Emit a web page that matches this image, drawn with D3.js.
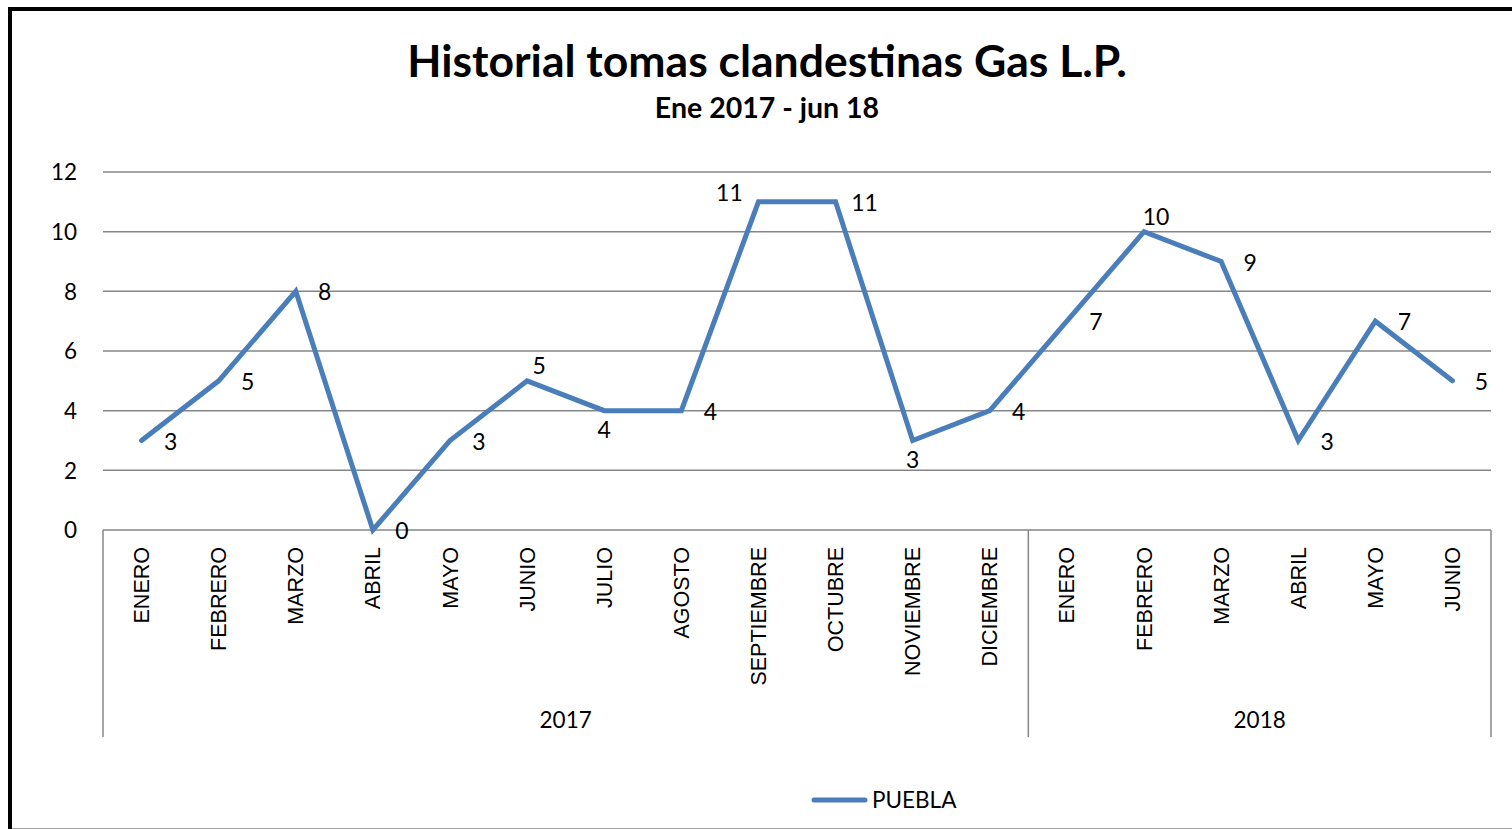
<!DOCTYPE html>
<html>
<head>
<meta charset="utf-8">
<script src="https://cdn.jsdelivr.net/npm/d3@7"></script>
<style>
  html, body { margin: 0; padding: 0; background: #fff; }
  svg { display: block; }
</style>
</head>
<body>
<svg id="chart" width="1512" height="829"></svg>
<script>
// ---- data ----
const months = ["ENERO","FEBRERO","MARZO","ABRIL","MAYO","JUNIO","JULIO","AGOSTO","SEPTIEMBRE","OCTUBRE","NOVIEMBRE","DICIEMBRE",
                "ENERO","FEBRERO","MARZO","ABRIL","MAYO","JUNIO"];
const years = ["2017","2018"];
const yearOf = [0,0,0,0,0,0,0,0,0,0,0,0,1,1,1,1,1,1];
const puebla = [3,5,8,0,3,5,4,4,11,11,3,4,7,10,9,3,7,5];
const labelPlacement = ["right","right","right","right","right","above","below","right","left","right","below","right",
                        "right","above","right","right","right","right"];
const yTicks = [0,2,4,6,8,10,12];
const seriesName = "PUEBLA";
const title = "Historial tomas clandestinas Gas L.P.";
const subtitle = "Ene 2017 - jun 18";

// ---- layout ----
const svg = d3.select("#chart");
const W = 1512, H = 829;
const plot = {left: 103, right: 1491, top: 172, bottom: 530};
const catFont = "'Liberation Sans', Arial, sans-serif";
const numFont = "Lato, 'Open Sans', sans-serif";
const blue = "#4A7EBB";
const grid = "#868686";

const keys = months.map((m, i) => i);
const x = d3.scaleBand().domain(keys).range([plot.left, plot.right]).padding(0);
const y = d3.scaleLinear().domain([0, 12]).range([plot.bottom, plot.top]);
const cx = i => x(i) + x.bandwidth() / 2;

// frame
svg.append("rect").attr("x", 0).attr("y", 0).attr("width", W).attr("height", H).attr("fill", "#fff");
svg.append("line").attr("x1", 12).attr("x2", W).attr("y1", 828.5).attr("y2", 828.5)
   .attr("stroke", "#a0a0a0").attr("stroke-width", 1);
svg.append("path").attr("d", `M10,${H} L10,9 L${W},9`).attr("fill", "none")
   .attr("stroke", "#000").attr("stroke-width", 4);

// title
svg.append("text").attr("x", 767).attr("y", 77).attr("text-anchor", "middle")
   .attr("font-family", numFont).attr("font-weight", "bold").attr("font-size", 44.5)
   .attr("fill", "#000").text(title);
svg.append("text").attr("x", 767).attr("y", 118).attr("text-anchor", "middle")
   .attr("font-family", numFont).attr("font-weight", "bold").attr("font-size", 28.5)
   .attr("fill", "#000").text(subtitle);

// gridlines + y labels
const yAxis = d3.axisLeft(y).tickValues(yTicks).tickSize(0).tickPadding(26);
const gy = svg.append("g").attr("transform", `translate(${plot.left},0)`).call(yAxis);
gy.select(".domain").remove();
gy.selectAll("text").attr("font-family", numFont).attr("font-size", 22.5).attr("fill", "#000")
  .attr("dy", "0.35em");
svg.append("g").selectAll("line").data(yTicks.filter(t => t > 0)).join("line")
   .attr("x1", plot.left).attr("x2", plot.right)
   .attr("y1", d => y(d)).attr("y2", d => y(d))
   .attr("stroke", grid).attr("stroke-width", 1.5);

// x axis
const xAxis = d3.axisBottom(x).tickSize(0).tickPadding(0).tickFormat(i => months[i]);
const gx = svg.append("g").attr("transform", `translate(0,${plot.bottom})`).call(xAxis);
gx.select(".domain").attr("stroke", grid).attr("stroke-width", 1.5)
  .attr("d", `M${plot.left},0H${plot.right}`);
gx.selectAll("text")
  .attr("font-family", catFont).attr("font-size", 21.5).attr("fill", "#000")
  .attr("transform", "rotate(-90)")
  .attr("text-anchor", "end")
  .attr("x", -17).attr("y", 0).attr("dy", "0.35em");

// group separators
const bounds = [plot.left];
years.forEach((yr, k) => {
  const idx = keys.filter(i => yearOf[i] === k);
  bounds.push(x(idx[idx.length - 1]) + x.bandwidth());
});
svg.append("g").selectAll("line").data(bounds).join("line")
   .attr("x1", d => d).attr("x2", d => d).attr("y1", plot.bottom).attr("y2", 737)
   .attr("stroke", grid).attr("stroke-width", 1.5);
svg.append("g").selectAll("text").data(years).join("text")
   .attr("x", (d, k) => (bounds[k] + bounds[k + 1]) / 2).attr("y", 728)
   .attr("text-anchor", "middle").attr("font-family", numFont).attr("font-size", 22.5)
   .attr("fill", "#000").text(d => d);

// line
const line = d3.line().x((d, i) => cx(i)).y(d => y(d));
svg.append("path").datum(puebla).attr("d", line)
   .attr("fill", "none").attr("stroke", blue).attr("stroke-width", 5)
   .attr("stroke-linejoin", "miter").attr("stroke-linecap", "round");

// data labels
const off = {
  right: {dx: 29, dy: 1},
  left:  {dx: -29, dy: -9},
  above: {dx: 12, dy: -15},
  below: {dx: 0, dy: 19}
};
svg.append("g").selectAll("text").data(puebla).join("text")
   .attr("x", (d, i) => cx(i) + off[labelPlacement[i]].dx)
   .attr("y", (d, i) => y(d) + off[labelPlacement[i]].dy)
   .attr("dy", "0.35em").attr("text-anchor", "middle")
   .attr("font-family", numFont).attr("font-size", 23).attr("fill", "#000")
   .text(d => d);

// legend
const lg = svg.append("g");
lg.append("line").attr("x1", 814).attr("x2", 865).attr("y1", 800).attr("y2", 800)
  .attr("stroke", blue).attr("stroke-width", 5).attr("stroke-linecap", "round");
lg.append("text").attr("x", 872).attr("y", 800).attr("dy", "0.35em")
  .attr("font-family", numFont).attr("font-size", 22.5).attr("fill", "#000").text(seriesName);
</script>
</body>
</html>
